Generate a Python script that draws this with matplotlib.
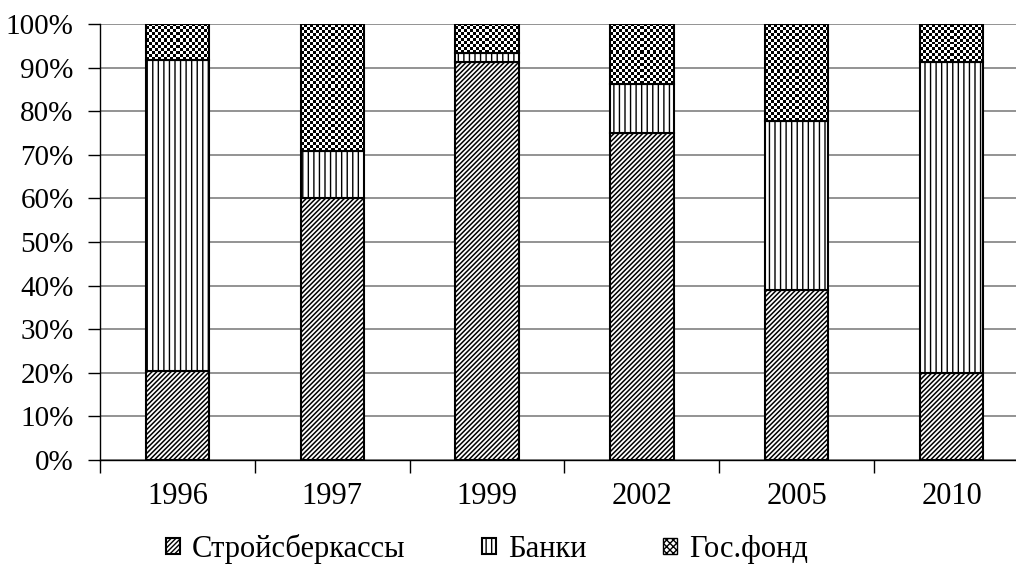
import matplotlib
matplotlib.use("Agg")
import matplotlib.pyplot as plt
import matplotlib.patches as mpatches
import numpy as np

# data (shares, %)
years = ["1996", "1997", "1999", "2002", "2005", "2010"]
stroy = [20.4, 60.2, 91.3, 75.1, 39.1, 20.0]
banki = [71.3, 10.7, 2.0, 11.1, 38.7, 71.3]
gosfond = [8.3, 29.1, 6.7, 13.8, 22.2, 8.7]
series_names = ["Стройсберкассы", "Банки", "Гос.фонд"]
yticks = [0, 10, 20, 30, 40, 50, 60, 70, 80, 90, 100]

plt.rcParams["font.family"] = ["Liberation Serif", "DejaVu Serif"]

fig = plt.figure(figsize=(10.16, 5.69), dpi=100)
ax = fig.add_axes([100 / 1016, 109 / 569, 929 / 1016, 436 / 569])

x = np.arange(len(years))
w = 0.41

def set_hlw(bars, lw):
    for p in bars:
        if hasattr(p, "set_hatch_linewidth"):
            p.set_hatch_linewidth(lw)

with plt.rc_context({"hatch.linewidth": 1.1}):
    b1 = ax.bar(x, stroy, w, color="white", edgecolor="black", hatch="///////", lw=1.5, zorder=3)
set_hlw(b1, 1.1)
bottom2 = np.array(stroy)
with plt.rc_context({"hatch.linewidth": 1.0}):
    b2 = ax.bar(x, banki, w, bottom=bottom2, color="white", edgecolor="black", hatch="|||", lw=1.5, zorder=3)
set_hlw(b2, 1.0)
bottom3 = bottom2 + np.array(banki)
b3 = ax.bar(x, gosfond, w, bottom=bottom3, color="none", edgecolor="black", lw=1.5, zorder=4)

ax.set_xlim(-0.5, 5.5)
ax.set_ylim(0, 100)

# checkerboard fill for the "Гос.фонд" segments
fig.canvas.draw()
px_w = ax.bbox.width / 6.0 * w
px_per_pct = ax.bbox.height / 100.0
cell = 3.0
for i, p in enumerate(b3):
    nx = max(1, int(round(px_w / cell)))
    ny = max(1, int(round(gosfond[i] * px_per_pct / cell)))
    chk = (np.add.outer(np.arange(ny), np.arange(nx)) % 2).astype(float)
    im = ax.imshow(chk, cmap="gray", vmin=0, vmax=1, interpolation="nearest",
                   extent=(x[i] - w / 2, x[i] + w / 2, bottom3[i], bottom3[i] + gosfond[i]),
                   origin="lower", zorder=3.5, aspect="auto")
    im.set_clip_path(p)
ax.set_xlim(-0.5, 5.5)
ax.set_ylim(0, 100)

ax.set_yticks(yticks)
ax.set_yticklabels([f"{t}%" for t in yticks], fontsize=21)
ax.yaxis.grid(True, color="#808080", lw=1.2, zorder=0)
ax.tick_params(axis="y", length=9, width=1, pad=10)

ax.set_xticks(np.arange(-0.5, 6, 1))
ax.set_xticklabels([])
ax.tick_params(axis="x", which="major", length=9, width=1, direction="out")
ax.set_xticks(x, minor=True)
ax.set_xticklabels(years, minor=True, fontsize=22)
ax.tick_params(axis="x", which="minor", length=0, pad=16)

for s in ["top", "right"]:
    ax.spines[s].set_visible(False)
ax.spines["left"].set_linewidth(1)
ax.spines["bottom"].set_linewidth(1)

with plt.rc_context({"hatch.linewidth": 1.0}):
    gos_handle = mpatches.Patch(facecolor="white", edgecolor="black", hatch="xxxxx", lw=1.0)
fig.legend([b1, b2, gos_handle], series_names, loc="center", bbox_to_anchor=(487 / 1016, 1 - 549 / 569),
           ncol=3, frameon=False, fontsize=22, handlelength=0.45, handleheight=0.45,
           handletextpad=0.4, columnspacing=2.5)

fig.savefig("out.png", dpi=100)
